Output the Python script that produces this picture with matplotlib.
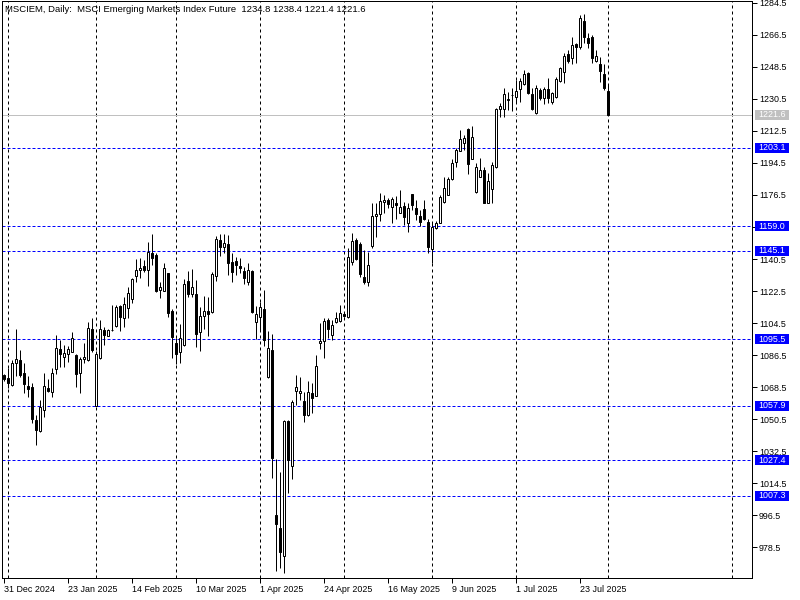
import matplotlib
matplotlib.use("Agg")
import matplotlib.pyplot as plt
from matplotlib.patches import Rectangle
from matplotlib.transforms import blended_transform_factory

# ---------------- data (daily candles, index 0 = 31 Dec 2024) ----------------
opens = [1075.1, 1073.4, 1069.5, 1081.8, 1083.7, 1076.2, 1069.1, 1068.5, 1049.8, 1043.6,
         1055.4, 1067.8, 1065.9, 1078.5, 1089.9, 1085.2, 1086.9, 1088.4, 1086.5, 1076.2,
         1084.1, 1083.7, 1101.0, 1058.0, 1084.6, 1100.6, 1097.4, 1100.6, 1103.0, 1113.9,
         1107.5, 1112.8, 1117.8, 1131.1, 1134.1, 1136.4, 1134.1, 1143.7, 1142.8, 1122.9,
         1122.5, 1132.6, 1111.3, 1093.1, 1088.2, 1092.0, 1128.3, 1120.6, 1120.6, 1099.3,
         1108.6, 1111.3, 1110.9, 1130.9, 1151.2, 1147.5, 1148.8, 1138.6, 1139.4, 1136.6,
         1133.8, 1127.8, 1133.8, 1105.3, 1108.1, 1112.2, 1074.0, 1089.3, 996.5, 989.0,
         973.5, 1049.4, 1024.1, 1066.5, 1065.0, 1060.7, 1052.6, 1065.0, 1063.5, 1093.1,
         1094.6, 1106.2, 1097.6, 1104.9, 1105.6, 1109.4, 1107.7, 1138.6, 1151.0, 1148.9,
         1130.2, 1127.4, 1148.0, 1164.9, 1166.0, 1172.8, 1173.7, 1169.8, 1172.0, 1166.6,
         1170.3, 1160.6, 1177.1, 1169.2, 1164.9, 1168.6, 1161.3, 1146.3, 1157.8, 1161.0,
         1172.4, 1176.7, 1185.3, 1194.9, 1201.4, 1205.6, 1213.4, 1196.9, 1178.0, 1186.8,
         1190.6, 1172.2, 1179.7, 1192.1, 1224.7, 1224.7, 1230.2, 1232.5, 1231.4, 1235.9,
         1238.8, 1245.3, 1233.3, 1222.4, 1235.6, 1230.9, 1235.9, 1229.0, 1231.4, 1240.8,
         1245.9, 1255.6, 1253.4, 1261.2, 1259.6, 1274.4, 1265.0, 1265.2, 1251.9, 1250.2,
         1244.4, 1234.8]
highs = [1076.0, 1079.0, 1083.7, 1101.2, 1089.3, 1081.8, 1074.7, 1070.6, 1052.8, 1061.2,
         1076.2, 1073.2, 1079.0, 1097.8, 1095.0, 1092.2, 1091.6, 1099.3, 1086.9, 1085.2,
         1093.1, 1105.3, 1107.2, 1089.0, 1106.2, 1102.5, 1101.0, 1114.6, 1114.6, 1114.8,
         1119.3, 1124.6, 1129.6, 1140.5, 1140.9, 1140.0, 1149.9, 1154.6, 1144.1, 1127.8,
         1138.5, 1132.8, 1112.4, 1095.9, 1103.8, 1129.1, 1133.9, 1134.7, 1128.7, 1113.3,
         1119.7, 1119.3, 1133.0, 1153.6, 1154.6, 1154.4, 1154.0, 1144.1, 1141.8, 1140.9,
         1136.2, 1138.1, 1134.3, 1114.1, 1116.5, 1123.1, 1100.0, 1098.2, 1027.8, 1020.5,
         1050.0, 1050.0, 1061.2, 1075.3, 1074.3, 1065.5, 1071.9, 1071.0, 1086.5, 1104.3,
         1107.2, 1107.2, 1106.2, 1110.9, 1114.6, 1110.0, 1146.5, 1154.9, 1152.1, 1150.0,
         1145.6, 1144.6, 1171.8, 1171.8, 1177.4, 1176.5, 1174.6, 1175.2, 1175.9, 1179.3,
         1172.8, 1171.8, 1177.3, 1173.7, 1168.1, 1173.7, 1162.8, 1161.5, 1161.9, 1176.5,
         1186.4, 1186.8, 1196.8, 1203.1, 1213.1, 1210.3, 1214.0, 1215.3, 1194.3, 1197.5,
         1192.4, 1189.0, 1195.3, 1225.3, 1228.5, 1236.5, 1234.6, 1236.5, 1241.2, 1242.1,
         1246.8, 1245.9, 1236.5, 1238.4, 1236.5, 1237.4, 1242.1, 1234.6, 1243.1, 1248.7,
         1256.2, 1258.1, 1265.6, 1261.8, 1277.5, 1278.3, 1267.4, 1266.5, 1258.1, 1254.3,
         1250.2, 1238.4]
lows = [1072.0, 1067.8, 1069.0, 1074.7, 1074.3, 1065.3, 1063.1, 1048.1, 1036.1, 1043.3,
        1051.8, 1065.5, 1063.1, 1075.7, 1080.0, 1079.6, 1082.8, 1088.2, 1068.7, 1065.3,
        1082.2, 1083.4, 1088.4, 1057.7, 1084.3, 1092.2, 1097.2, 1100.2, 1102.5, 1100.2,
        1102.5, 1107.2, 1116.0, 1127.8, 1130.0, 1133.4, 1125.5, 1137.1, 1122.1, 1118.4,
        1122.3, 1108.1, 1084.6, 1081.5, 1081.8, 1091.8, 1119.3, 1119.3, 1090.8, 1088.8,
        1101.2, 1097.4, 1110.3, 1128.3, 1142.4, 1143.7, 1131.5, 1127.8, 1131.5, 1132.5,
        1126.3, 1125.9, 1110.3, 1095.3, 1100.6, 1091.6, 1073.8, 1017.2, 965.2, 966.5,
        963.7, 1008.7, 1016.6, 1058.4, 1061.2, 1049.0, 1052.4, 1054.1, 1063.3, 1089.7,
        1085.0, 1095.9, 1095.0, 1104.3, 1104.9, 1108.1, 1107.5, 1137.1, 1139.9, 1130.2,
        1126.5, 1125.5, 1146.5, 1153.1, 1161.9, 1166.2, 1169.0, 1160.6, 1162.8, 1166.4,
        1159.6, 1155.9, 1168.1, 1162.4, 1159.3, 1162.4, 1143.7, 1138.4, 1157.6, 1160.6,
        1172.2, 1176.5, 1185.1, 1192.1, 1201.2, 1201.8, 1188.1, 1196.7, 1177.8, 1186.6,
        1171.8, 1171.9, 1172.2, 1191.9, 1220.6, 1220.6, 1224.3, 1223.7, 1229.0, 1229.0,
        1238.4, 1233.1, 1224.3, 1222.1, 1229.9, 1227.7, 1228.1, 1227.7, 1230.9, 1240.2,
        1239.7, 1250.6, 1250.2, 1250.6, 1258.4, 1261.8, 1259.0, 1250.6, 1251.5, 1240.2,
        1235.6, 1221.4]
closes = [1072.8, 1070.6, 1081.8, 1084.1, 1075.3, 1070.0, 1067.6, 1050.3, 1044.3, 1057.1,
          1069.1, 1066.5, 1076.2, 1090.3, 1087.3, 1087.5, 1089.9, 1095.9, 1075.7, 1084.1,
          1085.4, 1101.5, 1089.3, 1086.9, 1101.0, 1098.0, 1100.4, 1100.8, 1113.3, 1108.1,
          1115.2, 1121.2, 1129.1, 1134.1, 1135.3, 1134.1, 1144.6, 1140.9, 1122.7, 1124.8,
          1135.3, 1110.0, 1096.8, 1086.9, 1095.9, 1126.4, 1120.8, 1124.6, 1098.5, 1108.5,
          1111.3, 1109.4, 1132.1, 1151.8, 1147.5, 1149.3, 1138.5, 1133.4, 1137.3, 1135.6,
          1130.0, 1134.3, 1110.9, 1109.4, 1113.7, 1095.0, 1090.3, 1028.8, 991.7, 975.5,
          1049.4, 1027.5, 1060.3, 1068.3, 1066.3, 1052.6, 1065.5, 1062.2, 1080.3, 1094.4,
          1105.6, 1101.0, 1103.4, 1107.2, 1110.0, 1108.6, 1141.5, 1150.6, 1140.7, 1132.1,
          1127.4, 1137.1, 1164.7, 1165.6, 1173.1, 1173.7, 1171.3, 1174.1, 1171.1, 1169.8,
          1164.3, 1169.0, 1171.1, 1165.6, 1161.5, 1163.0, 1147.4, 1158.7, 1161.0, 1175.6,
          1180.6, 1185.5, 1194.3, 1201.8, 1207.8, 1208.4, 1194.1, 1208.9, 1192.4, 1190.6,
          1172.2, 1184.4, 1193.4, 1224.9, 1226.4, 1233.1, 1230.4, 1232.7, 1235.0, 1240.6,
          1244.4, 1233.7, 1224.9, 1236.5, 1230.9, 1235.9, 1231.3, 1233.7, 1241.7, 1247.8,
          1254.7, 1252.1, 1260.9, 1259.9, 1276.3, 1265.2, 1261.8, 1253.4, 1254.7, 1246.4,
          1236.9, 1221.6]

date_labels = ["31 Dec 2024", "23 Jan 2025", "14 Feb 2025", "10 Mar 2025", "1 Apr 2025",
               "24 Apr 2025", "16 May 2025", "9 Jun 2025", "1 Jul 2025", "23 Jul 2025"]
date_label_bars = [0, 16, 32, 48, 64, 80, 96, 112, 128, 144]
month_start_bars = [1, 23, 43, 64, 85, 107, 128, 151, 182]
price_ticks = [1284.5, 1266.5, 1248.5, 1230.5, 1212.5, 1194.5, 1176.5, 1158.5, 1140.5,
               1122.5, 1104.5, 1086.5, 1068.5, 1050.5, 1032.5, 1014.5, 996.5, 978.5]
hidden_tick_labels = [1158.5]  # fully covered by the 1159.0 marker in the reference
level_lines = [1203.1, 1159.0, 1145.1, 1095.5, 1057.9, 1027.4, 1007.3]
last_price = 1221.6
title_text = "MSCIEM, Daily:  MSCI Emerging Markets Index Future  1234.8 1238.4 1221.4 1221.6"

# ---------------- figure ----------------
W, H = 800, 600
FONT = "Liberation Sans"
FS = 6.4
PX = 0.72  # one pixel in points at 100 dpi

fig = plt.figure(figsize=(8, 6), dpi=100, facecolor="white")
ax = fig.add_axes([2 / W, 22 / H, 750 / W, 577 / H])
ax.set_facecolor("white")
ax.set_xlim(-0.375, 187.125)
ax.set_ylim(961.1, 1285.6)

for s in ax.spines.values():
    s.set_color("black")
    s.set_linewidth(PX)

# vertical grid (month starts)
for b in month_start_bars:
    ax.axvline(b, color="black", lw=PX, ls=(0, (3, 3)), zorder=1)

# level lines
for lv in level_lines:
    ax.axhline(lv, color="#0000FF", lw=PX, ls=(0, (3, 2)), zorder=1)
ax.axhline(last_price, color="#C0C0C0", lw=PX, zorder=1)

# candles
for i in range(len(opens)):
    o, h, l, c = opens[i], highs[i], lows[i], closes[i]
    ax.vlines(i, l, h, color="black", lw=PX, zorder=3)
    bull = c >= o
    lo = min(o, c)
    ht = abs(c - o)
    ax.add_patch(Rectangle((i - 0.25, lo), 0.5, ht,
                           facecolor="white" if bull else "black",
                           edgecolor="black", lw=PX, zorder=4))

# right price axis
ax.yaxis.tick_right()
ax.set_yticks(price_ticks)
ax.set_yticklabels(["" if p in hidden_tick_labels else f"{p:.1f}" for p in price_ticks])
ax.tick_params(axis="y", direction="out", length=3.6, width=PX, pad=1.5,
               labelsize=FS, colors="black")
for t in ax.get_yticklabels():
    t.set_fontfamily(FONT)

# bottom date axis
ax.set_xticks(date_label_bars)
ax.set_xticklabels(date_labels, ha="left")
ax.tick_params(axis="x", direction="out", length=3.6, width=PX, pad=1.2,
               labelsize=FS, colors="black")
for t in ax.get_xticklabels():
    t.set_fontfamily(FONT)

# price labels on the axis
trans = blended_transform_factory(ax.transAxes, ax.transData)
box_h = 10 / 1.778
for lv, fc in [(p, "#0000FF") for p in level_lines] + [(last_price, "#C0C0C0")]:
    ax.add_patch(Rectangle(((755 - 2) / 750, lv - box_h / 2), 34 / 750, box_h,
                           transform=trans, clip_on=False, facecolor=fc,
                           edgecolor="none", zorder=6))
    ax.text((758 - 2) / 750, lv, f"{lv:.1f}", transform=trans, color="white",
            fontsize=FS, fontfamily=FONT, va="center", ha="left", zorder=7,
            clip_on=False)

# title
ax.text(3 / 750, 1 - 11 / 577, title_text, transform=ax.transAxes, fontsize=6.8,
        fontfamily=FONT, color="black", va="baseline", ha="left", zorder=8)

fig.savefig("out.png", dpi=100, facecolor="white")
